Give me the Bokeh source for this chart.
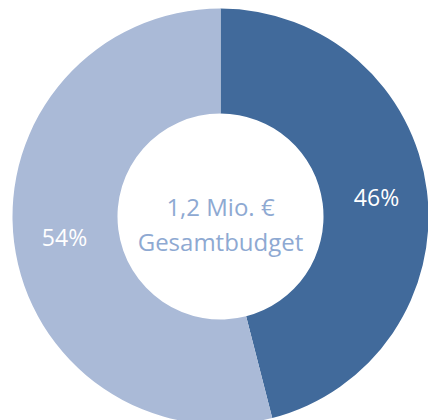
import math
from bokeh.plotting import figure
from bokeh.models import ColumnDataSource
from bokeh.core.properties import value
from bokeh.embed import file_html
from bokeh.resources import INLINE

categories = ["A", "B"]
shares = [46, 54]
labels = ["46%", "54%"]
colors = ["#416A9B", "#AABAD7"]
center_lines = ["1,2 Mio. €", "Gesamtbudget"]

total = sum(shares)
starts, ends = [], []
ang = math.pi / 2
r_in, r_out = 103, 208
for s in shares:
    sweep = s / total * 2 * math.pi
    starts.append(ang)
    ends.append(ang - sweep)
    ang -= sweep
lx = [156, -156]
ly = [20, -20]

src = ColumnDataSource(dict(cat=categories, start=starts, end=ends, color=colors,
                            label=labels, lx=lx, ly=ly))

p = figure(width=428, height=420, x_range=(-220, 208), y_range=(-204, 216),
           output_backend="svg", toolbar_location=None, min_border=0)
p.axis.visible = False
p.grid.visible = False
p.outline_line_color = None
p.background_fill_color = "white"

p.annular_wedge(x=0, y=0, inner_radius=r_in, outer_radius=r_out,
                start_angle="start", end_angle="end", direction="clock",
                fill_color="color", line_color=None, source=src)

p.text(x="lx", y="ly", text="label", source=src, text_color="white",
       text_font=value("Open Sans"), text_font_size="23px",
       text_align="center", text_baseline="middle")

p.text(x=[0, 0], y=[10, -25], text=center_lines, text_color="#8EA9D2",
       text_font=value("Open Sans"), text_font_size="24px",
       text_align="center", text_baseline="middle")

open("out.html", "w").write(file_html(p, INLINE))
